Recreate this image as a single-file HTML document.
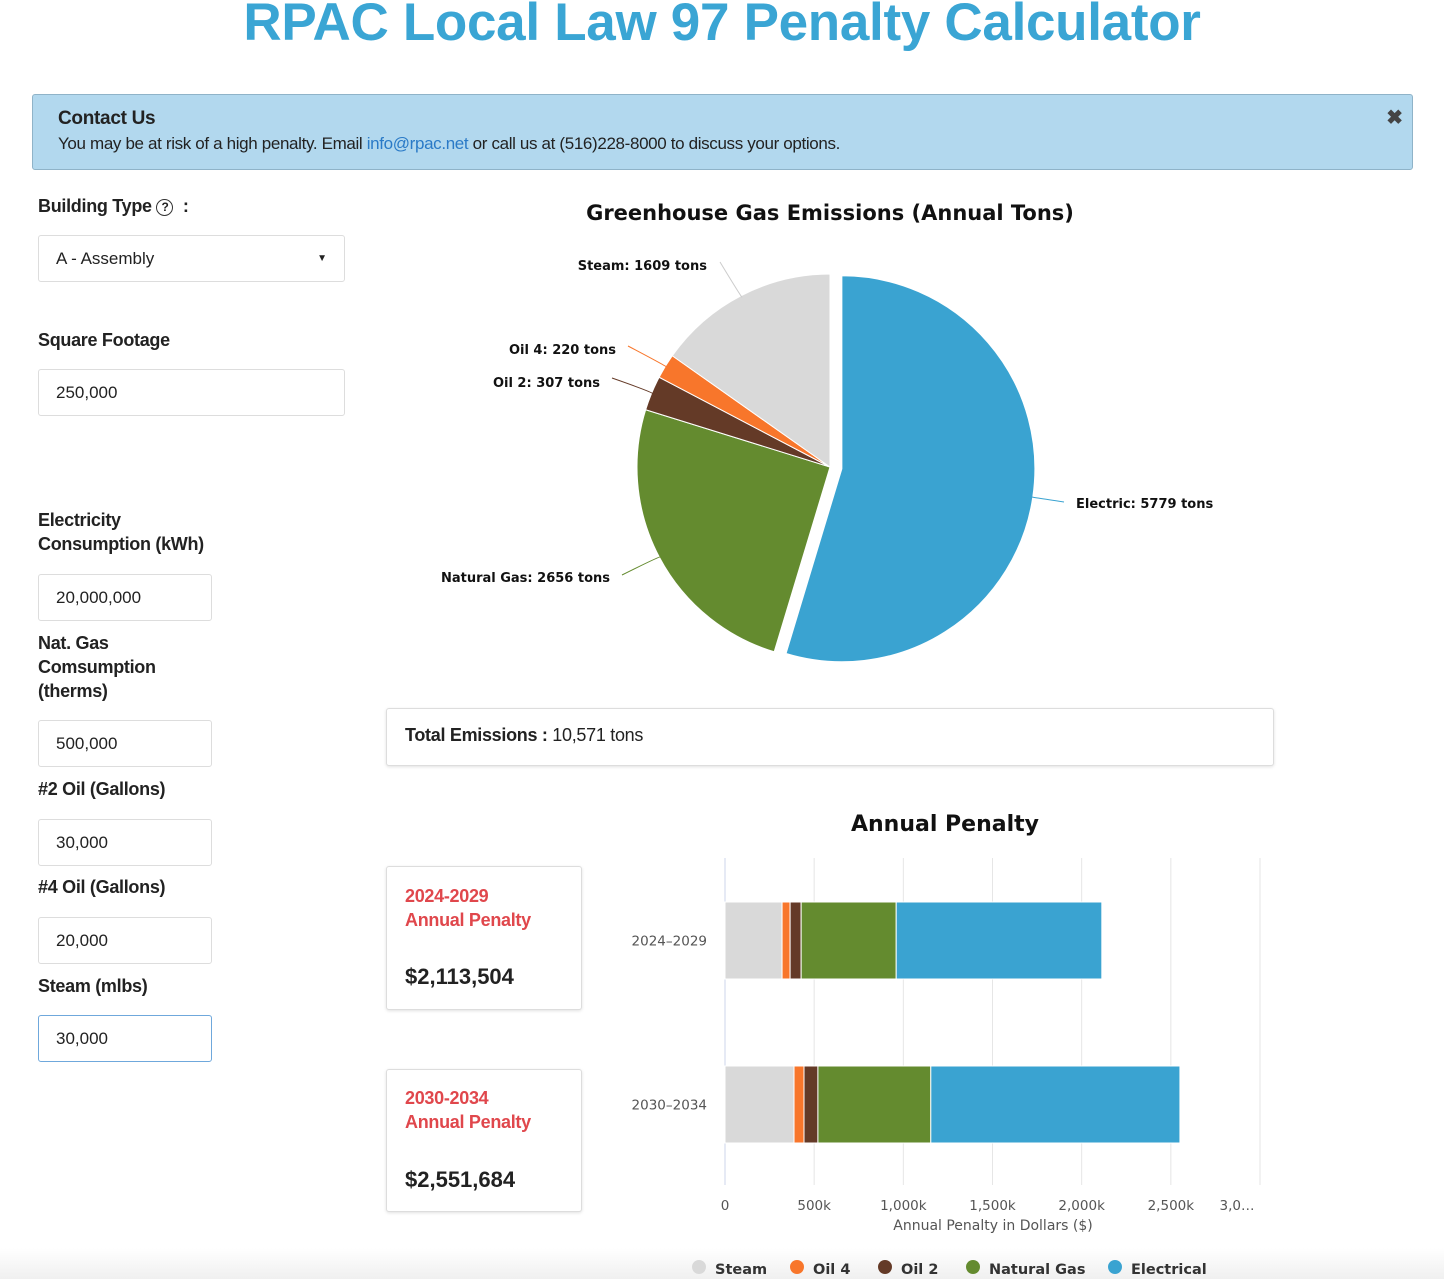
<!DOCTYPE html>
<html><head><meta charset="utf-8">
<style>
body{margin:0;width:1444px;height:1279px;overflow:hidden;background:#fff;font-family:"Liberation Sans",sans-serif;color:#222;position:relative}
.abs{position:absolute}
h1{position:absolute;left:0;width:1444px;top:-8px;margin:0;text-align:center;font-size:53px;font-weight:bold;color:#3aa5d4;letter-spacing:-0.3px}
.alert{left:32px;top:94px;width:1381px;height:76px;background:#b2d8ee;border:1px solid #8fb3c8;border-radius:3px;box-sizing:border-box}
.lbl{position:absolute;left:38px;font-size:18px;font-weight:bold;color:#222;line-height:24px;letter-spacing:-0.3px}
.inp{position:absolute;left:38px;height:47px;border:1px solid #ddd;border-radius:3px;box-sizing:border-box;font-size:17px;padding:0 17px;line-height:45px;color:#222}
.card{position:absolute;border:1px solid #ddd;border-radius:3px;box-shadow:0 1px 3px rgba(0,0,0,.12);background:#fff;box-sizing:border-box}
</style></head><body>
<h1>RPAC Local Law 97 Penalty Calculator</h1>
<div class="abs alert">
 <div class="abs" style="left:25px;top:13px;font-size:19px;font-weight:bold;letter-spacing:-0.3px">Contact Us</div>
 <div class="abs" style="left:25px;top:39px;font-size:17px;letter-spacing:-0.35px">You may be at risk of a high penalty. Email <span style="color:#2a7ac7">info@rpac.net</span> or call us at (516)228-8000 to discuss your options.</div>
 <div class="abs" style="right:9px;top:10px;font-size:20px;font-weight:bold;color:#444">✖</div>
</div>

<div class="lbl" style="top:194px">Building Type <span style="display:inline-block;width:15px;height:15px;border:1.5px solid #333;border-radius:50%;font-size:12px;line-height:15px;text-align:center;vertical-align:1px">?</span> &nbsp;:</div>
<div class="inp" style="top:235px;width:307px">A - Assembly<span class="abs" style="right:17px;top:0;font-size:10px">▼</span></div>
<div class="lbl" style="top:328px">Square Footage</div>
<div class="inp" style="top:369px;width:307px">250,000</div>
<div class="lbl" style="top:508px">Electricity<br>Consumption (kWh)</div>
<div class="inp" style="top:574px;width:174px">20,000,000</div>
<div class="lbl" style="top:631px">Nat. Gas<br>Comsumption<br>(therms)</div>
<div class="inp" style="top:720px;width:174px">500,000</div>
<div class="lbl" style="top:777px">#2 Oil (Gallons)</div>
<div class="inp" style="top:819px;width:174px">30,000</div>
<div class="lbl" style="top:875px">#4 Oil (Gallons)</div>
<div class="inp" style="top:917px;width:174px">20,000</div>
<div class="lbl" style="top:974px">Steam (mlbs)</div>
<div class="inp" style="top:1015px;width:174px;border-color:#6fa8dc">30,000</div>

<div class="card" style="left:386px;top:708px;width:888px;height:58px">
 <div class="abs" style="left:18px;top:16px;font-size:18px;letter-spacing:-0.3px"><b>Total Emissions :</b> 10,571 tons</div></div>

<div class="card" style="left:386px;top:866px;width:196px;height:144px">
 <div class="abs" style="left:18px;top:17px;font-size:18px;font-weight:bold;color:#e0474c;line-height:24px;letter-spacing:-0.3px">2024-2029<br>Annual Penalty</div>
 <div class="abs" style="left:18px;top:97px;font-size:22px;font-weight:bold">$2,113,504</div></div>
<div class="card" style="left:386px;top:1069px;width:196px;height:143px">
 <div class="abs" style="left:18px;top:16px;font-size:18px;font-weight:bold;color:#e0474c;line-height:24px;letter-spacing:-0.3px">2030-2034<br>Annual Penalty</div>
 <div class="abs" style="left:18px;top:97px;font-size:22px;font-weight:bold">$2,551,684</div></div>

<div class="abs" style="left:0;top:1248px;width:1444px;height:31px;background:linear-gradient(#fff,#f0f0f0)"></div>

<svg class="abs" style="left:0;top:0" width="1444" height="1279">
 <g id="pie"></g>
 <g id="bar"></g>
</svg>
<script>
const pieLabels=["Electric","Natural Gas","Oil 2","Oil 4","Steam"];
const pieValues=[5779,2656,307,220,1609];
const pieColors=["#3aa3d1","#648b2f","#643a27","#f8762b","#d9d9d9"];
const barCategories=["2024–2029","2030–2034"];
const seriesNames=["Steam","Oil 4","Oil 2","Natural Gas","Electrical"];
const steamVals=[320000,387000];
const oil4Vals=[45000,56000];
const oil2Vals=[62000,78000];
const gasVals=[533000,633000];
const elecVals=[1153000,1397000];
const xTicks=[0,500000,1000000,1500000,2000000,2500000,3000000];
const xTickLabels=["0","500k","1,000k","1,500k","2,000k","2,500k","3,0…"];
const NS="http://www.w3.org/2000/svg";
function mk(p,t,a,txt){const e=document.createElementNS(NS,t);for(const k in a)e.setAttribute(k,a[k]);if(txt!=null)e.textContent=txt;p.appendChild(e);return e;}
const pie=document.getElementById('pie');
const pt=mk(pie,'text',{x:830,y:220,'text-anchor':'middle','font-size':21,'font-weight':'bold',fill:'#111','font-family':'DejaVu Sans'},'Greenhouse Gas Emissions (Annual Tons)');

const total=pieValues.reduce((a,b)=>a+b,0);
const cx=830,cy=467,R=193;
let ang=0;
const labelPos=[[1076,508,'start',1030,497,1064,502],[610,582,'end',660,556,622,575],[600,387,'end',652,392,612,378],[616,354,'end',666,366,628,346],[707,270,'end',740,295,720,262]];
pieValues.forEach((v,i)=>{
 const a0=ang,a1=ang+v/total*2*Math.PI;ang=a1;
 const mid=(a0+a1)/2;const off=i===0?12:0;
 const ox=cx+off*Math.sin(mid),oy=cy-off*Math.cos(mid);
 const x0=ox+R*Math.sin(a0),y0=oy-R*Math.cos(a0),x1=ox+R*Math.sin(a1),y1=oy-R*Math.cos(a1);
 const large=(a1-a0)>Math.PI?1:0;
 const p=mk(pie,'path',{d:`M${ox},${oy}L${x0},${y0}A${R},${R} 0 ${large} 1 ${x1},${y1}Z`,fill:pieColors[i],stroke:'#fff','stroke-width':1});
 
 
 const lp=labelPos[i];
 const ex=ox+(R-2)*Math.sin(mid),ey=oy-(R-2)*Math.cos(mid);
 mk(pie,'path',{d:`M${ex},${ey}Q${lp[3]},${lp[4]} ${lp[5]},${lp[6]}`,fill:'none',stroke:pieColors[i]==='#d9d9d9'?'#ccc':pieColors[i],'stroke-width':1});
 const t=mk(pie,'text',{x:lp[0],y:lp[1],'text-anchor':lp[2],'font-size':13,'font-weight':'bold',fill:'#111','font-family':'DejaVu Sans'},pieLabels[i]+': '+v+' tons');
 
 
});
const bar=document.getElementById('bar');
const x0=725,pxPer=(1260-725)/3000000;
const X=v=>x0+v*pxPer;
const rowY=[902,1066],bh=77;
const tt=mk(bar,'text',{x:945,y:831,'text-anchor':'middle','font-size':22,'font-weight':'bold',fill:'#111','font-family':'DejaVu Sans'},'Annual Penalty');

xTicks.forEach((t,i)=>{
 if(i>0)mk(bar,'line',{x1:X(t),x2:X(t),y1:858,y2:1185,stroke:'#e6e6e6'});
 const last=i===xTicks.length-1;
 const l=mk(bar,'text',{x:last?X(t)-23:X(t),y:1210,'text-anchor':'middle','font-size':13.5,fill:'#555','font-family':'DejaVu Sans'},xTickLabels[i]);
 
});
mk(bar,'line',{x1:x0,x2:x0,y1:858,y2:1185,stroke:'#ccd6eb'});
const xt=mk(bar,'text',{x:993,y:1230,'text-anchor':'middle','font-size':14,fill:'#555','font-family':'DejaVu Sans'},'Annual Penalty in Dollars ($)');

const series=[steamVals,oil4Vals,oil2Vals,gasVals,elecVals];
const sColors=["#d9d9d9","#f8762b","#643a27","#648b2f","#3aa3d1"];
barCategories.forEach((c,j)=>{
 const l=mk(bar,'text',{x:707,y:rowY[j]+bh/2+5,'text-anchor':'end','font-size':13.5,fill:'#555','font-family':'DejaVu Sans'},c);
 
 let acc=0;
 series.forEach((s,i)=>{
  const r=mk(bar,'rect',{x:X(acc),y:rowY[j],width:X(acc+s[j])-X(acc),height:bh,fill:sColors[i],stroke:'#fff','stroke-width':1});
  
  
  acc+=s[j];
 });
});
const legX=[699,797,885,973,1115];
seriesNames.forEach((n,i)=>{
 const g=mk(bar,'g',{});
 
 
 mk(g,'circle',{cx:legX[i],cy:1267,r:7,fill:sColors[i]});
 mk(g,'text',{x:legX[i]+16,y:1274,'font-size':14.5,'font-weight':'bold',fill:'#333','font-family':'DejaVu Sans'},n);
});
</script>
</body></html>
